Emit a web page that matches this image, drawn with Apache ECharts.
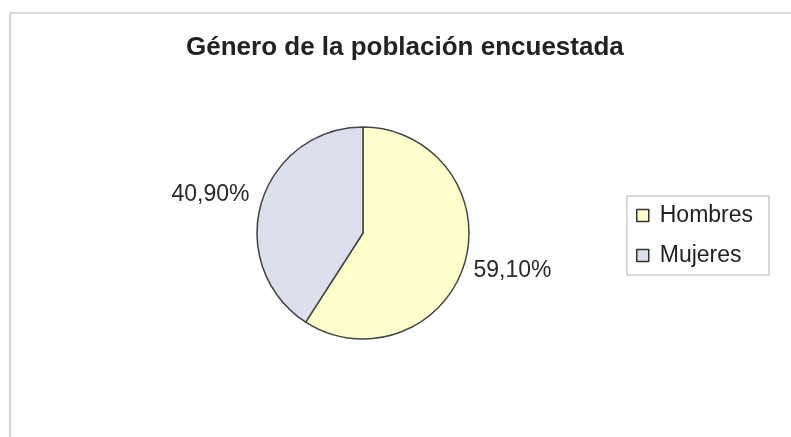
<!DOCTYPE html>
<html>
<head>
<meta charset="utf-8">
<script src="https://cdn.jsdelivr.net/npm/echarts@6/dist/echarts.min.js"></script>
<style>html,body{margin:0;padding:0;background:#fff;}#c{width:791px;height:437px;}</style>
</head>
<body>
<div id="c"></div>
<script>
const titleText = 'Género de la población encuestada';
const categories = ['Hombres', 'Mujeres'];
const values = [59.10, 40.90];
const labelTexts = ['59,10%', '40,90%'];
const colors = ['#FFFFCC', '#DCDFEC'];

const chart = echarts.init(document.getElementById('c'), null, {renderer: 'canvas'});
const FONT = '"Liberation Sans", Arial, Helvetica, sans-serif';

chart.setOption({
  backgroundColor: '#ffffff',
  animation: false,
  title: {
    text: titleText,
    left: 181,
    top: 30,
    textStyle: {fontFamily: FONT, fontWeight: 'bold', fontSize: 26, color: '#222'}
  },
  legend: {
    orient: 'vertical',
    left: 627,
    top: 196,
    padding: [8, 16, 8, 9],
    itemGap: 17,
    itemWidth: 12,
    itemHeight: 12,
    borderColor: '#b0b0b0',
    borderWidth: 1,
    data: categories,
    icon: 'rect',
    itemStyle: {borderColor: '#333', borderWidth: 1.5},
    textStyle: {fontFamily: FONT, fontSize: 23, color: '#222', padding: [0, 0, 0, 6]}
  },
  graphic: [
    {type: 'line', shape: {x1: 10, y1: 13, x2: 791, y2: 13}, style: {stroke: '#d8d8d8', lineWidth: 2}, silent: true},
    {type: 'line', shape: {x1: 10, y1: 13, x2: 10, y2: 437}, style: {stroke: '#d0d0d0', lineWidth: 2}, silent: true}
  ],
  series: [{
    type: 'pie',
    center: [363, 233],
    radius: 106,
    startAngle: 90,
    clockwise: true,
    avoidLabelOverlap: false,
    itemStyle: {borderColor: '#454545', borderWidth: 1.5},
    label: {
      show: true,
      position: 'outside',
      fontFamily: FONT,
      fontSize: 23,
      color: '#2a2a2a',
      formatter: p => labelTexts[p.dataIndex]
    },
    labelLine: {show: false, length: 4, length2: 0},
    labelLayout: p => (p.dataIndex === 0 ? {dy: 7} : {dx: -3, dy: -7}),
    emphasis: {disabled: true},
    data: categories.map((c, i) => ({name: c, value: values[i], itemStyle: {color: colors[i]}}))
  }]
});
</script>
</body>
</html>
